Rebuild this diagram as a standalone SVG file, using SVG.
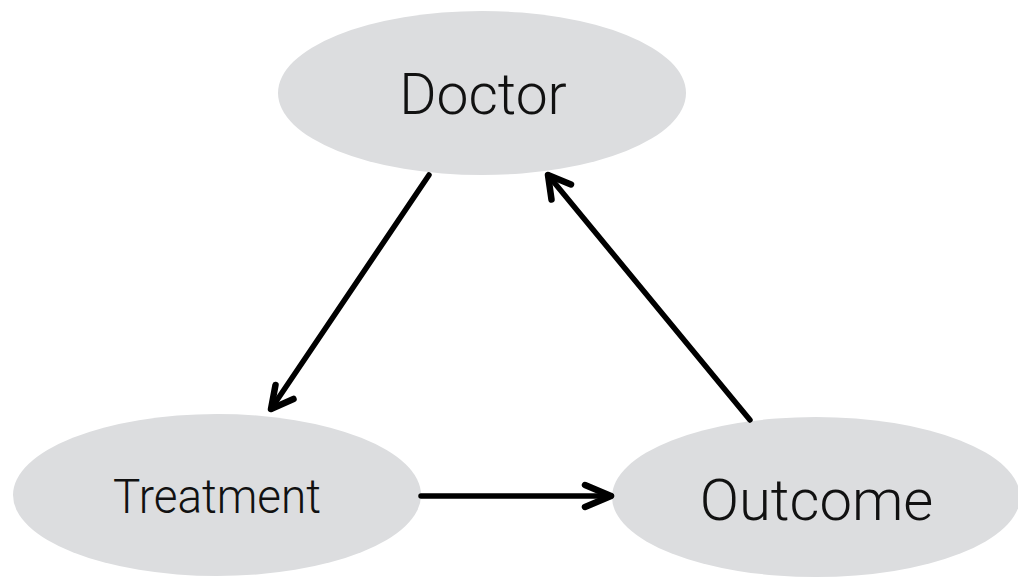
<svg xmlns="http://www.w3.org/2000/svg" width="1018" height="579" viewBox="0 0 1018 579">
  <style>
    .node { fill: #dcdddf; }
    .label { font-family: Roboto, "Liberation Sans", sans-serif; font-weight: 300; fill: #111; text-anchor: middle; }
    .edge { fill: none; stroke: #000; stroke-width: 5.5; stroke-linecap: round; stroke-linejoin: round; }
    .head { stroke-width: 6.5; }
  </style>

  <rect width="1018" height="579" fill="#fff"/>

  <g id="doctor">
    <ellipse class="node" cx="482" cy="93" rx="204" ry="82"/>
    <text class="label" x="483" y="114" font-size="57">Doctor</text>
  </g>

  <g id="treatment">
    <ellipse class="node" cx="217" cy="495" rx="204" ry="81"/>
    <text class="label" x="217" y="512.5" font-size="49" textLength="208" lengthAdjust="spacingAndGlyphs">Treatment</text>
  </g>

  <g id="outcome">
    <ellipse class="node" cx="816" cy="497" rx="204" ry="80"/>
    <text class="label" x="816.5" y="520" font-size="58">Outcome</text>
  </g>

  <!-- shaft plus open chevron head for each edge -->
  <g id="connectors">
    <path class="edge" d="M 429 175 L 271 409"/>
    <path class="edge head" d="M 275.5 385 L 271 409 L 293.5 399"/>

    <path class="edge" d="M 750 420 L 548 175"/>
    <path class="edge head" d="M 551.5 199.5 L 548 175 L 571 184.5"/>

    <path class="edge" d="M 421 496 L 611 496"/>
    <path class="edge head" d="M 585 485 L 611 496 L 585 507"/>
  </g>
</svg>
